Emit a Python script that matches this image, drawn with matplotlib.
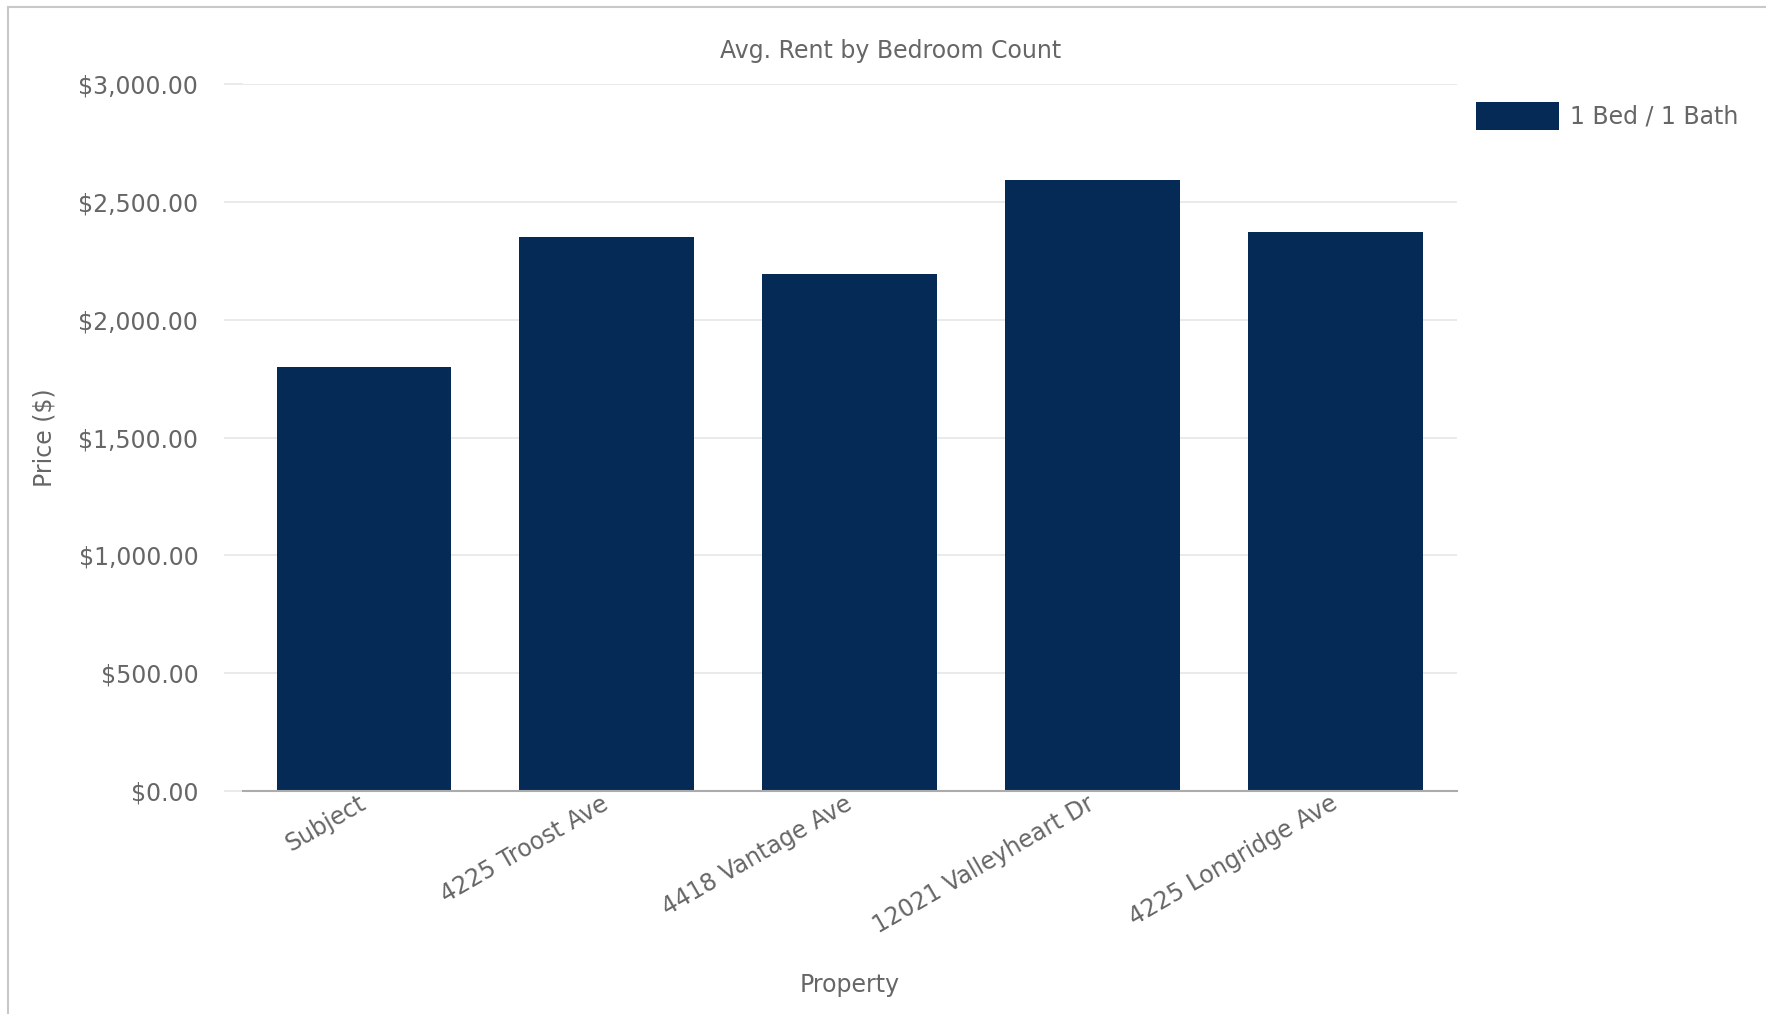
import matplotlib.pyplot as plt
from matplotlib.lines import Line2D
from matplotlib.ticker import StrMethodFormatter

properties = ["Subject", "4225 Troost Ave", "4418 Vantage Ave", "12021 Valleyheart Dr", "4225 Longridge Ave"]
rent_1bed = [1800, 2350, 2195, 2595, 2375]
yticks = [0, 500, 1000, 1500, 2000, 2500, 3000]

navy = "#062a56"
grey_text = "#666666"
grid_c = "#e6e6e6"

plt.rcParams["font.family"] = "DejaVu Sans"
plt.rcParams["font.size"] = 17

fig = plt.figure(figsize=(17.66, 10.14), dpi=100)
left = 242.5 / 1766
ax = fig.add_axes([left, 0.2202, 0.825 - left, 0.9167 - 0.2202])

x = list(range(len(properties)))
ax.bar(x, rent_1bed, width=0.72, color=navy, label="1 Bed / 1 Bath", zorder=3)

ax.set_xlim(-0.5, len(properties) - 0.5)
ax.set_ylim(0, 3000)
ax.set_yticks(yticks)
ax.yaxis.set_major_formatter(StrMethodFormatter("${x:,.2f}"))
ax.grid(axis="y", color=grid_c, linewidth=1.2, zorder=0)
ax.tick_params(axis="y", length=13.8, width=1.2, color=grid_c, pad=18, labelcolor=grey_text, labelsize=17)
ax.tick_params(axis="x", length=0, pad=8, labelcolor=grey_text, labelsize=17)

ax.set_xticks(x)
ax.set_xticklabels(properties, rotation=30, ha="right", va="center", rotation_mode="anchor")

for side in ["top", "right", "left"]:
    ax.spines[side].set_visible(False)
ax.spines["bottom"].set_color("#ababab")
ax.spines["bottom"].set_linewidth(1.5)
ax.spines["bottom"].set_zorder(4)

ax.set_title("Avg. Rent by Bedroom Count", color=grey_text, fontsize=17, pad=19, x=0.5334)
ax.set_ylabel("Price ($)", color=grey_text, fontsize=17)
ax.yaxis.set_label_coords(-0.153, 0.5)
ax.set_xlabel("Property", color=grey_text, fontsize=17)
ax.xaxis.set_label_coords(0.5, -0.258)

fig.legend(loc="upper left", bbox_to_anchor=(1476 / 1766, 1 - 102 / 1014), frameon=False,
           borderpad=0, borderaxespad=0, handlelength=3.5, handleheight=1.45,
           handletextpad=0.5, labelcolor=grey_text, fontsize=17)

# light frame along the top and left edges
fig.add_artist(Line2D([8 / 1766, 8 / 1766], [0, 1 - 7 / 1014], color="#c8c8c8", linewidth=1.5))
fig.add_artist(Line2D([8 / 1766, 1], [1 - 7 / 1014, 1 - 7 / 1014], color="#c8c8c8", linewidth=1.5))

fig.savefig("out.png", dpi=100)
